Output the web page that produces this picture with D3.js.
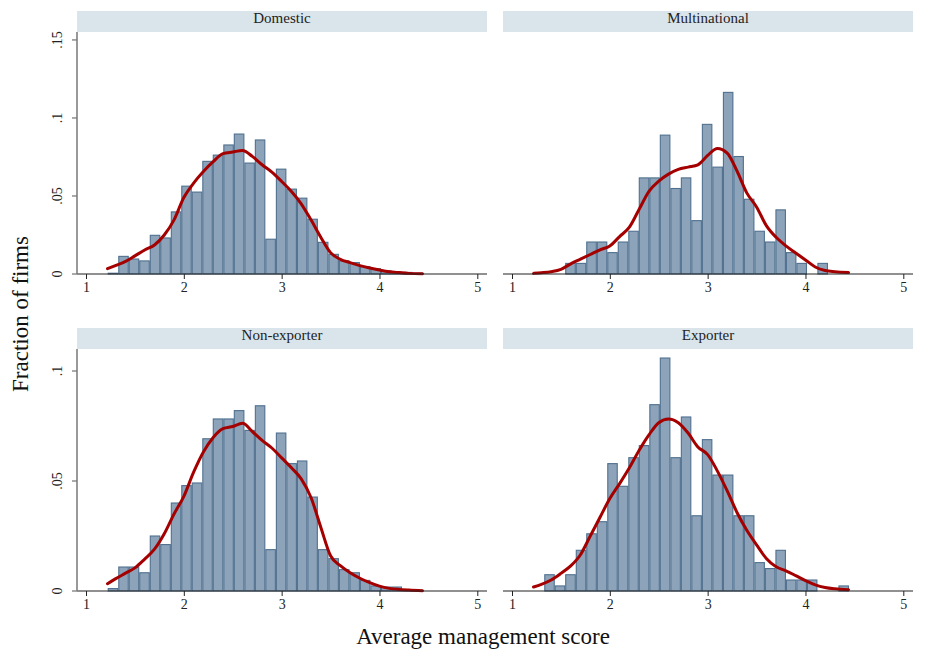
<!DOCTYPE html>
<html>
<head>
<meta charset="utf-8">
<script src="https://cdn.jsdelivr.net/npm/d3@7"></script>
<style>
  body { margin: 0; background: #fff; }
  text { font-family: "Liberation Serif", "DejaVu Serif", serif; }
</style>
</head>
<body>
<svg id="chart"></svg>
<script>
// bin edges of the histogram (management score)
var binEdges = [1.222, 1.330, 1.437, 1.544, 1.652, 1.759, 1.867, 1.974, 2.081, 2.189,
  2.296, 2.404, 2.511, 2.619, 2.726, 2.833, 2.941, 3.048, 3.156, 3.263,
  3.370, 3.478, 3.585, 3.693, 3.800, 3.907, 4.015, 4.122, 4.230, 4.337, 4.444];

// fraction of firms in each bin
var domestic = [0.0005, 0.0113, 0.0096, 0.0084, 0.0248, 0.0231, 0.0398, 0.0563, 0.0525, 0.0722,
  0.0762, 0.0827, 0.0897, 0.0711, 0.0859, 0.0223, 0.0672, 0.0544, 0.0486, 0.0351,
  0.0203, 0.0126, 0.0084, 0.0073, 0.0047, 0.0034, 0.0020, 0.0013, 0.0010, 0.0005];
var multinational = [0, 0, 0, 0.0068, 0.0068, 0.0205, 0.0205, 0.0137, 0.0205, 0.0274,
  0.0616, 0.0616, 0.0890, 0.0548, 0.0616, 0.0342, 0.0959, 0.0685, 0.1164, 0.0753,
  0.0479, 0.0274, 0.0205, 0.0411, 0.0137, 0.0068, 0, 0.0068, 0, 0];
var nonExporter = [0.0011, 0.0109, 0.0109, 0.0083, 0.0250, 0.0211, 0.0400, 0.0479, 0.0491, 0.0692,
  0.0782, 0.0782, 0.0820, 0.0730, 0.0842, 0.0188, 0.0718, 0.0579, 0.0591, 0.0427,
  0.0188, 0.0147, 0.0097, 0.0083, 0.0048, 0.0023, 0.0018, 0.0018, 0.0006, 0.0003];
var exporter = [0, 0.0074, 0.0023, 0.0074, 0.0185, 0.0260, 0.0315, 0.0579, 0.0476, 0.0606,
  0.0661, 0.0847, 0.1059, 0.0606, 0.0791, 0.0342, 0.0688, 0.0527, 0.0527, 0.0342,
  0.0342, 0.0129, 0.0102, 0.0185, 0.0050, 0.0050, 0.0050, 0, 0, 0.0023];

// kernel density (scaled to fraction) evaluated at these scores
var kdeX = [1.22, 1.3, 1.4, 1.5, 1.6, 1.7, 1.8, 1.9, 2.0, 2.1, 2.2, 2.3, 2.4, 2.5, 2.6, 2.7,
  2.8, 2.9, 3.0, 3.1, 3.2, 3.3, 3.4, 3.5, 3.6, 3.7, 3.8, 3.9, 4.0, 4.1, 4.2, 4.3, 4.44];
var kdeDomestic = [0.0034, 0.0054, 0.0079, 0.0116, 0.0154, 0.0186, 0.0250, 0.0347, 0.0490, 0.0582,
  0.0657, 0.0720, 0.0771, 0.0782, 0.0792, 0.0754, 0.0700, 0.0653, 0.0593, 0.0529,
  0.0450, 0.0347, 0.0236, 0.0137, 0.0094, 0.0073, 0.0054, 0.0039, 0.0026, 0.0015,
  0.0009, 0.0004, 0.0002];
var kdeMultinational = [0.0004, 0.0008, 0.0015, 0.0030, 0.0065, 0.0095, 0.0125, 0.0155, 0.0180, 0.0240,
  0.0300, 0.0415, 0.0530, 0.0595, 0.0640, 0.0670, 0.0685, 0.0700, 0.0760, 0.0805,
  0.0775, 0.0660, 0.0520, 0.0430, 0.0310, 0.0235, 0.0180, 0.0135, 0.0090, 0.0045,
  0.0022, 0.0014, 0.0009];
var kdeNonExporter = [0.0033, 0.0055, 0.0080, 0.0105, 0.0145, 0.0190, 0.0260, 0.0350, 0.0430, 0.0540,
  0.0632, 0.0698, 0.0738, 0.0748, 0.0762, 0.0725, 0.0685, 0.0650, 0.0605, 0.0560,
  0.0510, 0.0425, 0.0290, 0.0160, 0.0115, 0.0083, 0.0058, 0.0038, 0.0022, 0.0012,
  0.0007, 0.0004, 0.0001];
var kdeExporter = [0.0018, 0.0030, 0.0050, 0.0080, 0.0114, 0.0165, 0.0250, 0.0335, 0.0420, 0.0488,
  0.0560, 0.0640, 0.0710, 0.0765, 0.0782, 0.0765, 0.0718, 0.0655, 0.0620, 0.0545,
  0.0455, 0.0357, 0.0276, 0.0210, 0.0148, 0.0110, 0.0092, 0.0070, 0.0047, 0.0028,
  0.0016, 0.0010, 0.0006];

var xTicks = [1, 2, 3, 4, 5];
var yTicksTop = [0, 0.05, 0.1, 0.15];
var yTicksBottom = [0, 0.05, 0.1];
var yLabel = function(v) { return v === 0 ? "0" : String(v).replace(/^0/, ""); };

var svg = d3.select("#chart").attr("width", 930).attr("height", 655);

var panels = [
  { title: "Domestic", bars: domestic, kde: kdeDomestic, left: 77, right: 487, top: 32, bottom: 274, yMax: 0.1551, yTicks: yTicksTop, showY: true },
  { title: "Multinational", bars: multinational, kde: kdeMultinational, left: 503, right: 913, top: 32, bottom: 274, yMax: 0.1551, yTicks: yTicksTop, showY: false },
  { title: "Non-exporter", bars: nonExporter, kde: kdeNonExporter, left: 77, right: 487, top: 349, bottom: 591, yMax: 0.11, yTicks: yTicksBottom, showY: true },
  { title: "Exporter", bars: exporter, kde: kdeExporter, left: 503, right: 913, top: 349, bottom: 591, yMax: 0.11, yTicks: yTicksBottom, showY: false }
];

panels.forEach(function(p) {
  var g = svg.append("g");
  var x = d3.scaleLinear().domain([1, 5]).range([p.left + 9, p.right - 9.7]);
  var y = d3.scaleLinear().domain([0, p.yMax]).range([p.bottom, p.top]);

  // strip title
  g.append("rect")
    .attr("x", p.left).attr("y", p.top - 21)
    .attr("width", p.right - p.left).attr("height", 21)
    .attr("fill", "#dae5eb");
  g.append("text")
    .attr("x", (p.left + p.right) / 2).attr("y", p.top - 9.5)
    .attr("text-anchor", "middle")
    .style("font-size", "15px").style("fill", "#222")
    .text(p.title);

  // bars
  var binData = p.bars.map(function(v, i) { return { v: v, x0: binEdges[i], x1: binEdges[i + 1] }; })
    .filter(function(d) { return d.v > 0; });
  g.selectAll("rect.bar")
    .data(binData)
    .enter().append("rect")
    .attr("class", "bar")
    .attr("x", function(d) { return x(d.x0) + 0.5; })
    .attr("width", function(d) { return x(d.x1) - x(d.x0) - 1; })
    .attr("y", function(d) { return y(d.v); })
    .attr("height", function(d) { return y(0) - y(d.v); })
    .attr("fill", "#8ca3b9")
    .attr("stroke", "#50708f")
    .attr("stroke-width", 1.1);

  // density curve
  var line = d3.line()
    .x(function(d, i) { return x(kdeX[i]); })
    .y(function(d) { return y(d); })
    .curve(d3.curveMonotoneX);
  g.append("path")
    .datum(p.kde)
    .attr("d", line)
    .attr("fill", "none")
    .attr("stroke", "#a50000")
    .attr("stroke-width", 3)
    .attr("stroke-linejoin", "round")
    .attr("stroke-linecap", "round");

  // x axis
  var xa = g.append("g")
    .attr("transform", "translate(0," + p.bottom + ")")
    .call(d3.axisBottom(x).tickValues(xTicks).tickSize(5).tickPadding(3).tickFormat(d3.format("d")));
  xa.select(".domain").remove();
  xa.append("line")
    .attr("x1", p.left).attr("x2", p.right)
    .attr("stroke", "#222").attr("stroke-width", 1.2);
  xa.selectAll(".tick line").attr("stroke", "#222");
  xa.selectAll(".tick text")
    .style("font-family", "'Liberation Serif', serif")
    .style("font-size", "14px").style("fill", "#222");

  // y axis
  if (p.showY) {
    var ya = g.append("g")
      .attr("transform", "translate(" + p.left + ",0)")
      .call(d3.axisLeft(y).tickValues(p.yTicks).tickSize(5).tickFormat(yLabel));
    ya.select(".domain").remove();
    ya.append("line")
      .attr("y1", p.top).attr("y2", p.bottom)
      .attr("stroke", "#777").attr("stroke-width", 1.5);
    ya.selectAll(".tick").attr("transform", null);
    ya.selectAll(".tick line")
      .attr("stroke", "#555")
      .attr("transform", function(d) { return "translate(0," + y(d) + ")"; });
    ya.selectAll(".tick text")
      .attr("x", 0).attr("y", 0).attr("dy", 0)
      .attr("transform", function(d) { return "translate(-15," + y(d) + ") rotate(-90)"; })
      .attr("text-anchor", "middle")
      .style("font-family", "'Liberation Serif', serif")
      .style("font-size", "14px").style("fill", "#222");
  }
});

// axis titles
svg.append("text")
  .attr("x", 483).attr("y", 644)
  .attr("text-anchor", "middle")
  .style("font-size", "23px").style("fill", "#111")
  .text("Average management score");

svg.append("text")
  .attr("transform", "translate(28,314) rotate(-90)")
  .attr("text-anchor", "middle")
  .style("font-size", "23px").style("fill", "#111")
  .text("Fraction of firms");
</script>
</body>
</html>
